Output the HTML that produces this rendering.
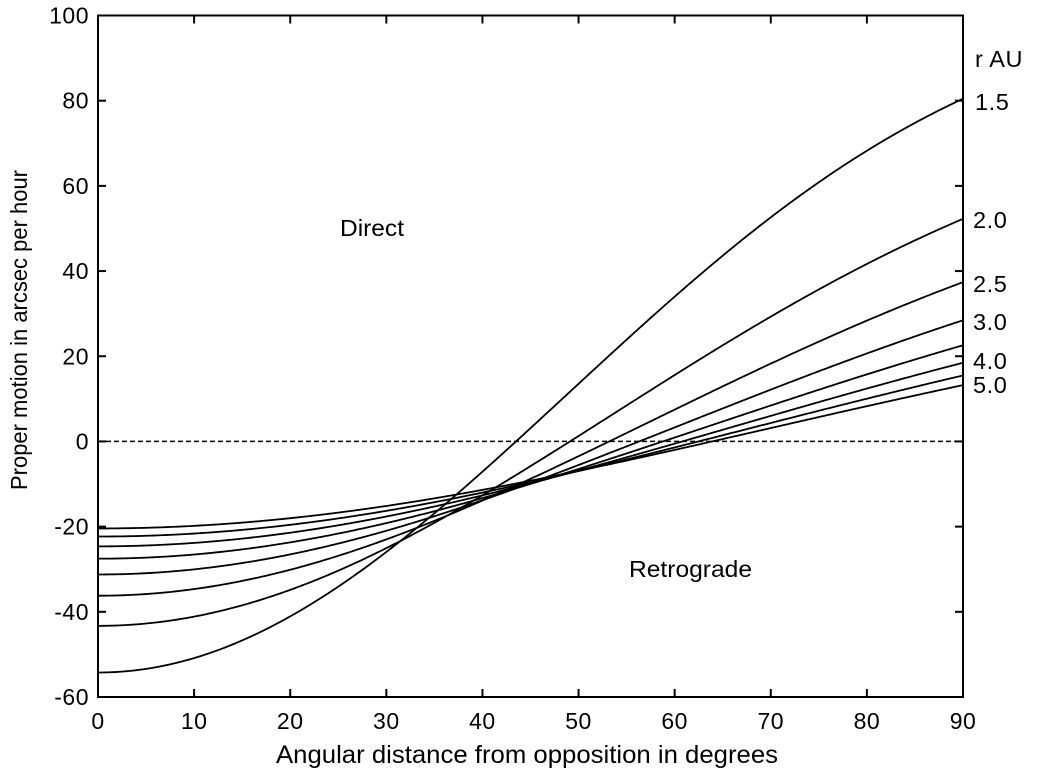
<!DOCTYPE html>
<html>
<head>
<meta charset="utf-8">
<style>
  html,body{margin:0;padding:0;background:#fff;}
  svg{display:block;}
  text{font-family:"Liberation Sans",Arial,Helvetica,sans-serif;fill:#000;}
</style>
</head>
<body>
<svg id="chart" width="1046" height="778" viewBox="0 0 1046 778" xmlns="http://www.w3.org/2000/svg">
  <rect x="0" y="0" width="1046" height="778" fill="#fff"/>
  <g id="curves" fill="none" stroke="#000" stroke-width="1.8" stroke-linejoin="round"></g>
  <!-- zero dashed line -->
  <line x1="98" y1="441.4" x2="963" y2="441.4" stroke="#000" stroke-width="1.5" stroke-dasharray="5,3"/>
  <g id="ticks" stroke="#000" stroke-width="2"></g>
  <!-- frame -->
  <rect x="98" y="15.5" width="865" height="681.5" fill="none" stroke="#000" stroke-width="2"/>
  <g id="labels" font-size="23" letter-spacing="0.5"></g>

  <text x="340" y="236" font-size="23" textLength="64" lengthAdjust="spacingAndGlyphs">Direct</text>
  <text x="629" y="577" font-size="23" textLength="123" lengthAdjust="spacingAndGlyphs">Retrograde</text>

  <text x="276" y="763" font-size="25" textLength="502" lengthAdjust="spacingAndGlyphs">Angular distance from opposition in degrees</text>
  <text transform="translate(27,490) rotate(-90)" x="0" y="0" font-size="23" textLength="320" lengthAdjust="spacingAndGlyphs">Proper motion in arcsec per hour</text>

  <g font-size="23.5" letter-spacing="0.6">
    <text x="975" y="67">r AU</text>
    <text x="975" y="110">1.5</text>
    <text x="973" y="228">2.0</text>
    <text x="973" y="292">2.5</text>
    <text x="973" y="330">3.0</text>
    <text x="973" y="369">4.0</text>
    <text x="973" y="393">5.0</text>
  </g>
</svg>
<script>
(function(){
  var NS="http://www.w3.org/2000/svg";
  var X0=98, X1=963, Y100=15.5, Yn60=697;
  var sy=(Yn60-Y100)/160;
  function px(t){return X0+t*(X1-X0)/90;}
  function py(v){return Y100+(100-v)*sy;}
  var vE=29.78, K=206264.8*3600/1.495979e8;
  function rate(r,thDeg){
    var th=thDeg*Math.PI/180, c=Math.cos(th), s=Math.sin(th);
    var D=-c+Math.sqrt(c*c-1+r*r);
    var Ax=1+D*c, Ay=D*s;
    var vA=vE/Math.sqrt(r);
    var vx=vA*(-Ay/r), vy=vA*(Ax/r)-vE;
    var dx=D*c, dy=D*s;
    var cr=dx*vy-dy*vx;
    return cr/(D*D)*K;
  }
  var rs=[1.5,2,2.5,3,3.5,4,4.5,5];
  var g=document.getElementById("curves");
  rs.forEach(function(r){
    var d="";
    for(var i=0;i<=360;i++){
      var t=i*0.25;
      var v=rate(r,t);
      d+=(i?"L":"M")+px(t).toFixed(2)+","+py(v).toFixed(2);
    }
    var p=document.createElementNS(NS,"path");
    p.setAttribute("d",d);
    g.appendChild(p);
  });
  var tk=document.getElementById("ticks");
  var lb=document.getElementById("labels");
  function line(x1,y1,x2,y2){
    var l=document.createElementNS(NS,"line");
    l.setAttribute("x1",x1);l.setAttribute("y1",y1);
    l.setAttribute("x2",x2);l.setAttribute("y2",y2);
    tk.appendChild(l);
  }
  function text(x,y,s,anchor){
    var t=document.createElementNS(NS,"text");
    t.setAttribute("x",x);t.setAttribute("y",y);
    t.setAttribute("text-anchor",anchor);
    t.textContent=s;
    lb.appendChild(t);
  }
  for(var a=0;a<=90;a+=10){
    var x=px(a);
    if(a>0&&a<90){
      line(x,Yn60,x,Yn60-8);
      line(x,Y100,x,Y100+8);
    }
    text(x,729,String(a),"middle");
  }
  for(var v=-60;v<=100;v+=20){
    var y=py(v);
    if(v>-60&&v<100){
      line(X0,y,X0+8,y);
      line(X1,y,X1-8,y);
    }
    text(89,y+8,String(v),"end");
  }
})();
</script>
</body>
</html>
